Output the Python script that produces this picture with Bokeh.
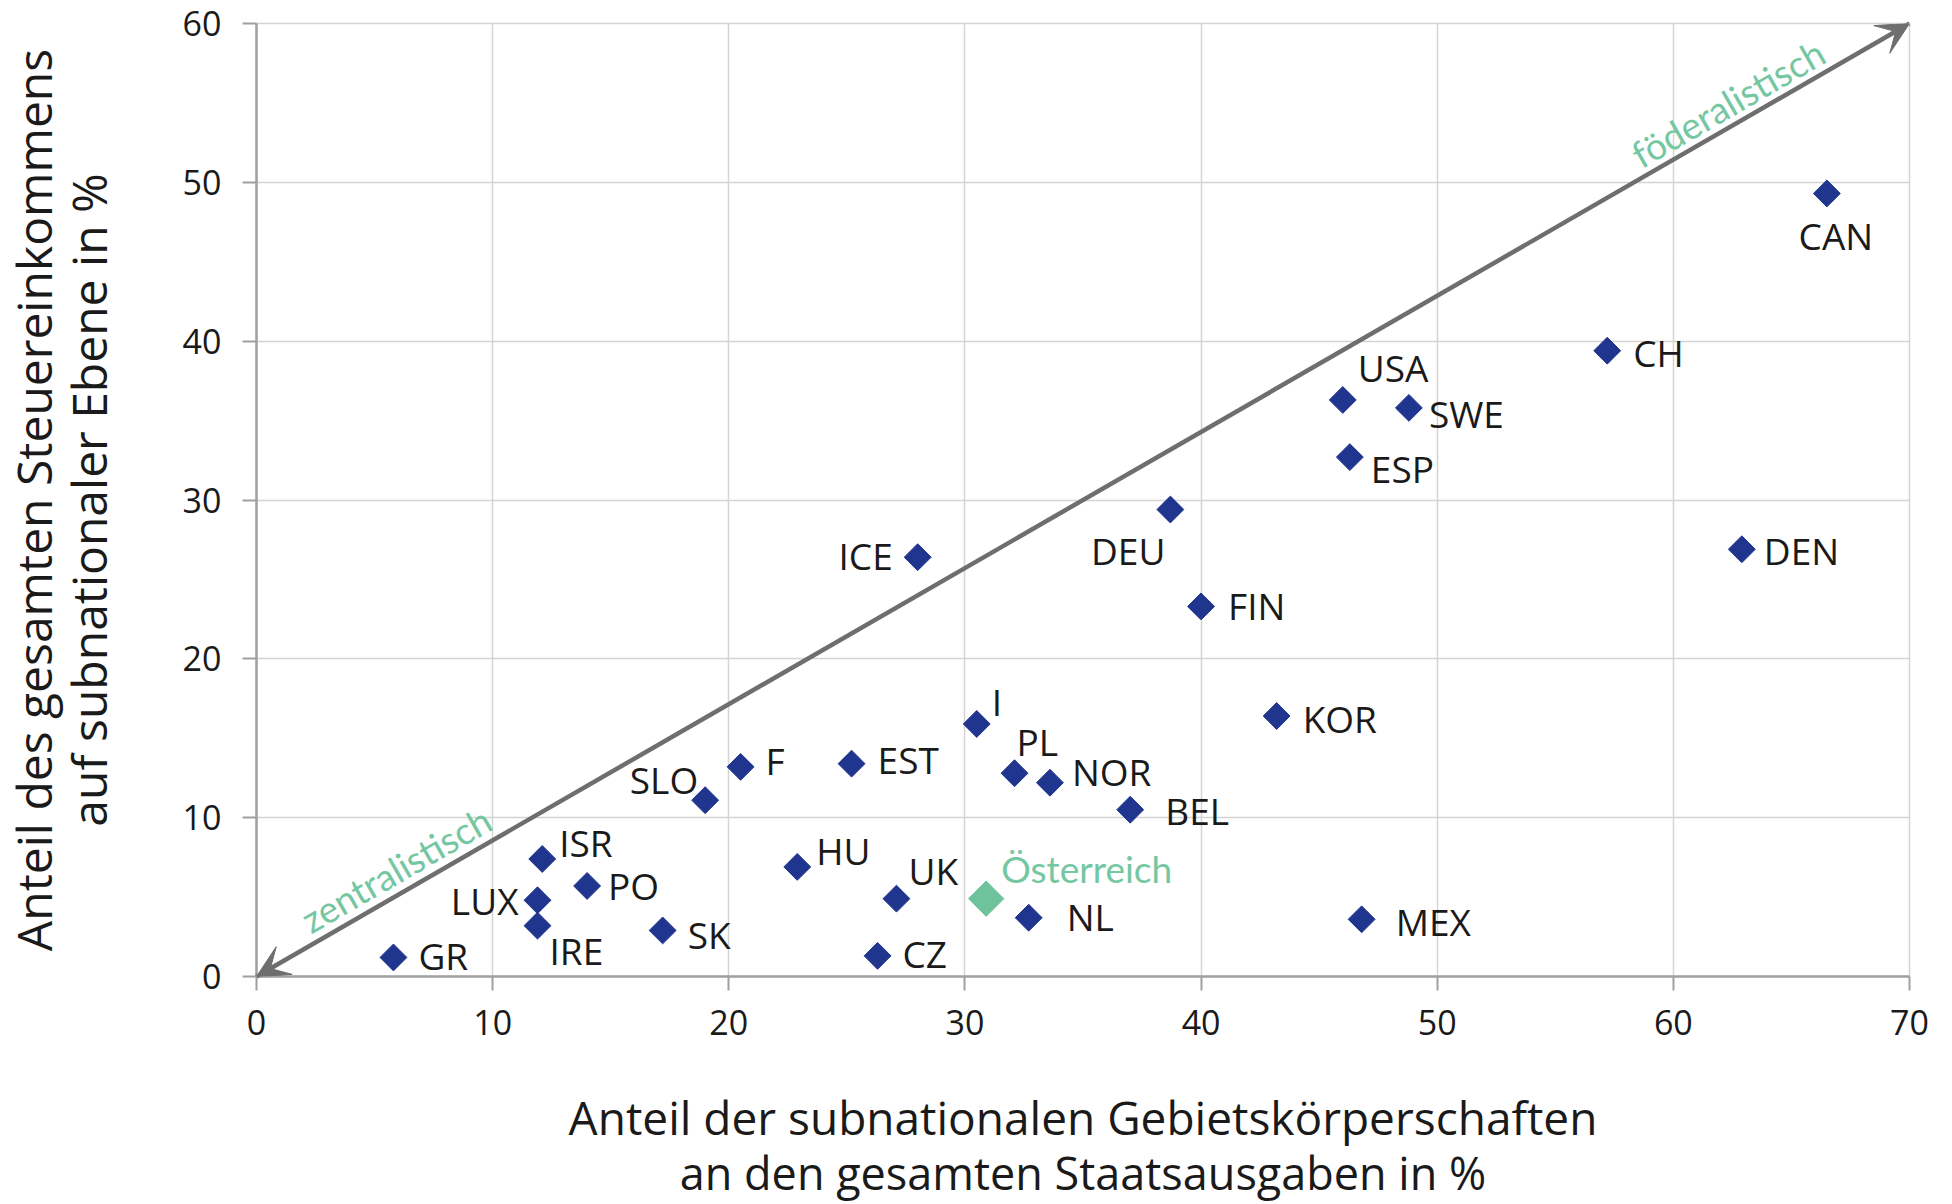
import math
from bokeh.plotting import figure
from bokeh.models import ColumnDataSource, FixedTicker, Arrow, VeeHead, Label, Range1d, Title
from bokeh.core.properties import value
from bokeh.embed import file_html
from bokeh.resources import INLINE

# ---- data ----
countries = ["CAN", "CH", "USA", "SWE", "ESP", "DEN", "DEU", "FIN", "ICE", "KOR",
             "I", "PL", "NOR", "BEL", "F", "EST", "SLO", "ISR", "PO", "LUX",
             "IRE", "GR", "SK", "HU", "UK", "CZ", "NL", "MEX"]
spending_share = [66.5, 57.2, 46.0, 48.8, 46.3, 62.9, 38.7, 40.0, 28.0, 43.2,
                  30.5, 32.1, 33.6, 37.0, 20.5, 25.2, 19.0, 12.1, 14.0, 11.9,
                  11.9, 5.8, 17.2, 22.9, 27.1, 26.3, 32.7, 46.8]
tax_share = [49.3, 39.4, 36.3, 35.8, 32.7, 26.9, 29.4, 23.3, 26.4, 16.4,
             15.9, 12.8, 12.2, 10.5, 13.2, 13.4, 11.1, 7.4, 5.7, 4.8,
             3.2, 1.2, 2.9, 6.9, 4.9, 1.3, 3.7, 3.6]

highlight_name = ["Österreich"]
highlight_x = [30.9]
highlight_y = [4.9]

x_ticks = [0, 10, 20, 30, 40, 50, 60, 70]
y_ticks = [0, 10, 20, 30, 40, 50, 60]

x_title = ["Anteil der subnationalen Gebietskörperschaften",
           "an den gesamten Staatsausgaben in %"]
y_title = ["Anteil des gesamten Steuereinkommens",
           "auf subnationaler Ebene in %"]
arrow_up_text = "föderalistisch"
arrow_down_text = "zentralistisch"

# ---- label placement (screen px: dx right, dy down, alignment) ----
placement = {
    "CAN": (9, 42, "center"), "CH": (26, 2, "left"), "USA": (15, -32, "left"),
    "SWE": (20, 6, "left"), "ESP": (21, 11, "left"), "DEN": (22, 1, "left"),
    "DEU": (-5, 41, "right"), "FIN": (27, -1, "left"), "ICE": (-25, -2, "right"),
    "KOR": (26, 2, "left"), "I": (15, -22, "left"), "PL": (2, -32, "left"),
    "NOR": (22, -11, "left"), "BEL": (35, 1, "left"), "F": (25, -6, "left"),
    "EST": (26, -4, "left"), "SLO": (-7, -21, "right"), "ISR": (17, -16, "left"),
    "PO": (21, 0, "left"), "LUX": (-19, 0, "right"), "IRE": (12, 25, "left"),
    "GR": (25, -2, "left"), "SK": (25, 4, "left"), "HU": (19, -16, "left"),
    "UK": (12, -28, "left"), "CZ": (25, -2, "left"), "NL": (38, -1, "left"),
    "MEX": (34, 2, "left"),
}

NAVY = "#20368e"
GREEN = "#6fc39c"
GREEN_TXT = "#74c7a1"
GREY = "#6e6e6e"
TXT = "#1a1a1a"

W, H = 1952, 1204
p = figure(width=W, height=H, output_backend="svg", toolbar_location=None,
           x_range=Range1d(x_ticks[0], x_ticks[-1]), y_range=Range1d(y_ticks[0], y_ticks[-1]),
           min_border_left=256, min_border_right=43, min_border_top=23, min_border_bottom=228)
p.background_fill_color = "white"
p.border_fill_color = "white"
p.outline_line_color = "#d4d4d4"
p.outline_line_width = 1.5

for ax in (p.xaxis, p.yaxis):
    ax.major_label_text_font = "Open Sans"
    ax.major_label_text_font_size = "34px"
    ax.major_label_text_color = TXT
    ax.axis_label_text_font = "Open Sans"
    ax.axis_label_text_font_style = "normal"
    ax.axis_label_text_color = TXT
    ax.axis_line_color = "#a0a0a0"
    ax.axis_line_width = 2.5
    ax.major_tick_line_color = "#a0a0a0"
    ax.major_tick_line_width = 2
    ax.major_tick_out = 14
    ax.major_tick_in = 0
    ax.minor_tick_line_color = None

p.xaxis.ticker = FixedTicker(ticks=x_ticks)
p.yaxis.ticker = FixedTicker(ticks=y_ticks)
p.xaxis.axis_label = x_title[0]
p.yaxis.axis_label = y_title[1]
p.xaxis.axis_label_text_font_size = "46px"
p.yaxis.axis_label_text_font_size = "48px"
p.xaxis.major_label_standoff = 19
p.yaxis.major_label_standoff = 21
p.xaxis.axis_label_standoff = 48
p.yaxis.axis_label_standoff = 59

p.add_layout(Title(text=y_title[0], align="center", vertical_align="middle",
                   text_font="Open Sans", text_font_size="48px", text_font_style="normal",
                   text_color=TXT, standoff=-28, offset=0), "left")
p.add_layout(Title(text=x_title[1], align="center", text_font="Open Sans",
                   text_font_size="45px", text_font_style="normal", text_color=TXT,
                   standoff=-22, offset=0), "below")

p.xgrid.ticker = FixedTicker(ticks=x_ticks)
p.ygrid.ticker = FixedTicker(ticks=y_ticks)
p.grid.grid_line_color = "#d4d4d4"
p.grid.grid_line_width = 1.5

# diagonal arrow
p.add_layout(Arrow(x_start=x_ticks[0], y_start=y_ticks[0], x_end=x_ticks[-1], y_end=y_ticks[-1],
                   line_color=GREY, line_width=4.5,
                   start=VeeHead(size=32, fill_color=GREY, line_color=GREY),
                   end=VeeHead(size=32, fill_color=GREY, line_color=GREY)))

ang = math.radians(30)
p.add_layout(Label(x=62.3, y=55.0, text=arrow_up_text, angle=ang, text_align="center",
                   text_baseline="middle", text_font="Lato", text_font_size="37px",
                   text_color=GREEN_TXT))
p.add_layout(Label(x=5.9, y=6.77, text=arrow_down_text, angle=ang, text_align="center",
                   text_baseline="middle", text_font="Lato", text_font_size="37px",
                   text_color=GREEN_TXT))

src = ColumnDataSource(dict(
    x=spending_share, y=tax_share, name=countries,
    dx=[placement[c][0] for c in countries],
    dy=[placement[c][1] for c in countries],
    align=[placement[c][2] for c in countries],
))
p.scatter("x", "y", source=src, marker="square", angle=math.pi / 4, size=19,
          fill_color=NAVY, line_color=NAVY)
p.text("x", "y", text="name", source=src, x_offset="dx", y_offset="dy",
       text_align="align", text_baseline="middle", text_font=value("Open Sans"),
       text_font_size="37px", text_color=TXT)

hsrc = ColumnDataSource(dict(x=highlight_x, y=highlight_y, name=highlight_name))
p.scatter("x", "y", source=hsrc, marker="square", angle=math.pi / 4, size=25,
          fill_color=GREEN, line_color=GREEN)
p.text("x", "y", text="name", source=hsrc, x_offset=15, y_offset=-30,
       text_align="left", text_baseline="middle", text_font=value("Lato"),
       text_font_size="37px", text_color=GREEN_TXT)

open("out.html", "w").write(file_html(p, INLINE))
